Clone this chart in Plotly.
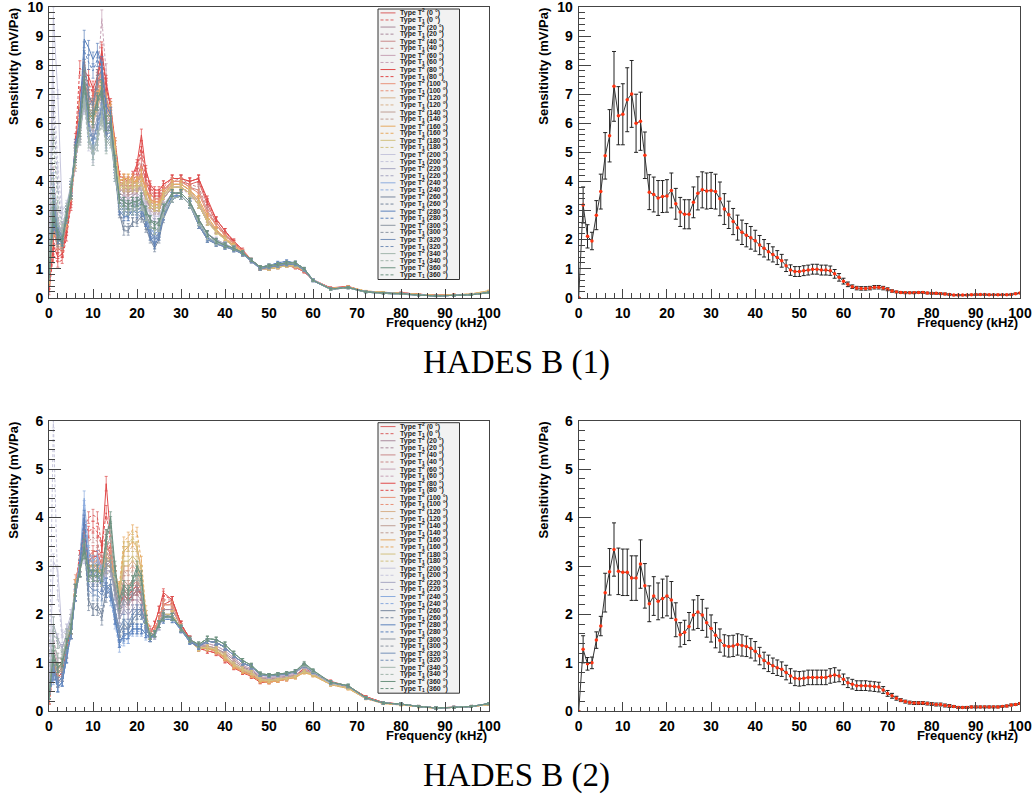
import plotly.graph_objects as go

# ---------------- data ----------------
FREQ_L = list(range(0, 27)) + list(range(28, 61, 2)) + list(range(64, 101, 4))   # kHz, left panels
FREQ_R = list(range(0, 101))                                                      # kHz, right panels
ANGLES = [0, 20, 40, 60, 80, 100, 120, 140, 160, 180, 200, 220, 240, 260, 280, 300, 320, 340, 360]
CAPTIONS = ["HADES B (1)", "HADES B (2)"]
Y_TITLE = "Sensitivity (mV/Pa)"
X_TITLE = "Frequency (kHz)"

# HADES B (1) individual responses (Type T2 solid, Type T1 dashed)
b1_t2_000 = [0.6,2.4,1.7,1.6,2.5,3.5,5.0,6.3,7.5,6.9,6.7,7.1,8.0,6.9,6.3,5.0,4.0,3.9,3.8,3.9,4.1,4.6,4.0,3.6,3.4,3.4,3.7,4.0,4.0,3.9,4.0,3.2,2.6,2.2,1.9,1.6,1.3,1.05,1.05,1.1,1.1,1.05,0.9,0.62,0.33,0.38,0.2,0.17,0.17,0.12,0.08,0.1,0.1,0.2]
b1_t1_000 = [0.4,2.0,1.5,1.5,2.3,3.3,4.7,6.0,7.2,6.6,6.9,7.5,8.4,7.2,6.5,5.2,4.1,4.0,3.9,4.0,4.3,5.0,4.1,3.7,3.5,3.5,3.8,4.1,4.1,4.0,4.1,3.3,2.7,2.3,1.95,1.6,1.3,1.05,1.05,1.1,1.1,1.05,0.9,0.6,0.32,0.37,0.21,0.18,0.16,0.11,0.08,0.1,0.11,0.21]
b1_t2_020 = [0.8,3.0,2.2,2.0,2.8,3.6,4.8,5.8,7.3,6.5,6.4,6.8,7.2,6.3,6.1,4.8,3.6,3.5,3.4,3.5,3.6,3.9,3.4,3.1,3.0,3.0,3.4,3.8,3.8,3.6,3.2,2.6,2.3,2.0,1.75,1.5,1.3,1.0,1.0,1.05,1.1,1.1,0.95,0.6,0.3,0.35,0.22,0.18,0.15,0.1,0.07,0.09,0.12,0.22]
b1_t1_020 = [0.7,2.7,2.0,1.9,2.7,3.5,4.6,5.6,7.0,6.3,6.2,6.6,7.4,6.5,6.2,4.9,3.7,3.6,3.6,3.7,3.7,4.0,3.5,3.2,3.1,3.1,3.5,3.9,3.9,3.7,3.3,2.7,2.3,2.0,1.75,1.5,1.3,1.0,1.0,1.05,1.1,1.1,0.95,0.6,0.31,0.36,0.22,0.18,0.15,0.1,0.07,0.09,0.12,0.22]
b1_t2_040 = [0.5,2.6,1.9,1.8,2.6,3.6,5.1,6.2,7.4,6.8,6.9,7.3,7.9,6.8,6.4,5.1,3.9,3.8,3.7,3.8,3.9,4.2,3.7,3.3,3.2,3.2,3.6,4.0,4.0,3.8,3.7,3.0,2.5,2.15,1.85,1.6,1.3,1.0,1.0,1.05,1.1,1.05,0.9,0.6,0.33,0.37,0.21,0.17,0.16,0.11,0.08,0.1,0.11,0.2]
b1_t1_040 = [0.4,2.3,1.7,1.7,2.5,3.4,4.9,6.0,7.1,6.6,6.6,7.0,7.7,6.7,6.3,5.0,3.9,3.8,3.7,3.9,4.0,4.4,3.8,3.4,3.3,3.3,3.7,4.0,4.1,3.9,3.8,3.1,2.5,2.2,1.9,1.6,1.3,1.0,1.0,1.05,1.1,1.05,0.9,0.6,0.32,0.37,0.21,0.17,0.16,0.11,0.08,0.1,0.11,0.2]
b1_t2_060 = [0.9,3.5,2.4,2.1,2.9,3.7,4.9,5.7,7.2,6.2,6.0,6.5,7.0,6.0,6.0,4.8,3.6,3.5,3.5,3.6,3.6,3.9,3.4,3.1,3.0,3.0,3.4,3.8,3.8,3.6,3.3,2.7,2.3,2.0,1.75,1.5,1.3,1.0,1.0,1.05,1.1,1.1,0.95,0.6,0.3,0.35,0.2,0.17,0.15,0.1,0.07,0.09,0.11,0.2]
b1_t1_060 = [1.0,4.2,2.8,2.3,3.0,3.8,5.0,5.8,7.0,6.0,5.8,7.5,9.6,7.8,5.9,4.7,3.6,3.5,3.4,3.5,3.6,3.8,3.3,3.0,2.9,3.0,3.4,3.8,3.8,3.5,3.2,2.6,2.3,2.0,1.75,1.5,1.3,1.0,1.0,1.05,1.1,1.1,0.95,0.6,0.3,0.35,0.21,0.17,0.15,0.1,0.07,0.09,0.11,0.21]
b1_t2_080 = [0.3,1.8,1.4,1.5,2.3,3.4,5.2,7.0,7.8,7.6,7.2,7.6,8.5,7.4,6.6,5.3,4.2,4.1,4.0,4.2,4.6,5.6,4.4,3.9,3.7,3.7,3.9,4.1,4.1,4.0,4.1,3.4,2.7,2.3,1.95,1.65,1.3,1.05,1.05,1.1,1.1,1.05,0.9,0.62,0.34,0.39,0.21,0.18,0.17,0.12,0.08,0.1,0.11,0.2]
b1_t1_080 = [0.2,1.5,1.2,1.3,2.1,3.2,5.4,7.9,7.7,7.4,7.0,7.4,8.3,7.3,6.5,5.2,4.1,4.0,4.0,4.1,4.5,5.2,4.3,3.8,3.6,3.6,3.9,4.1,4.1,4.0,4.1,3.3,2.7,2.3,1.9,1.6,1.3,1.05,1.05,1.1,1.1,1.05,0.9,0.6,0.33,0.38,0.21,0.18,0.17,0.12,0.08,0.1,0.1,0.19]
b1_t2_100 = [0.6,2.5,1.9,1.8,2.6,3.6,5.0,6.1,7.4,6.9,6.8,7.2,7.8,6.7,6.3,5.0,3.9,3.9,3.8,3.9,4.0,4.3,3.8,3.4,3.3,3.3,3.7,4.0,4.0,3.8,3.6,2.9,2.5,2.15,1.85,1.6,1.3,1.0,1.0,1.05,1.1,1.05,0.92,0.6,0.32,0.37,0.21,0.17,0.16,0.11,0.08,0.1,0.11,0.2]
b1_t1_100 = [0.5,2.3,1.8,1.7,2.5,3.5,4.8,5.9,7.1,6.6,6.6,7.0,7.6,6.6,6.2,4.9,3.9,3.9,3.8,3.9,4.0,4.3,3.8,3.4,3.3,3.3,3.7,4.0,4.0,3.8,3.6,2.9,2.5,2.1,1.85,1.6,1.3,1.0,1.0,1.05,1.1,1.05,0.92,0.6,0.32,0.37,0.21,0.17,0.16,0.11,0.08,0.1,0.11,0.2]
b1_t2_120 = [0.7,2.8,2.1,1.9,2.7,3.6,4.9,5.8,7.2,6.5,6.4,6.9,7.3,6.3,6.2,4.9,3.9,4.0,4.0,4.0,3.9,4.0,3.5,3.2,3.1,3.1,3.5,3.9,3.9,3.7,3.3,2.7,2.3,2.0,1.8,1.55,1.3,1.0,1.0,1.05,1.1,1.1,0.95,0.6,0.31,0.36,0.22,0.18,0.15,0.1,0.07,0.09,0.12,0.22]
b1_t1_120 = [0.6,2.6,2.0,1.9,2.7,3.6,4.8,5.7,7.0,6.4,6.3,6.8,7.4,6.4,6.2,4.9,3.9,4.0,3.9,3.9,3.9,4.0,3.5,3.2,3.1,3.1,3.5,3.9,3.9,3.7,3.3,2.7,2.3,2.0,1.8,1.55,1.3,1.0,1.0,1.05,1.1,1.1,0.95,0.6,0.31,0.36,0.22,0.18,0.15,0.1,0.07,0.09,0.12,0.22]
b1_t2_140 = [0.8,3.1,2.2,2.0,2.8,3.7,4.9,5.7,7.1,6.3,6.2,6.7,7.0,6.1,6.1,4.8,3.7,3.7,3.7,3.7,3.7,3.9,3.4,3.1,3.0,3.0,3.4,3.8,3.8,3.6,3.2,2.6,2.3,2.0,1.75,1.5,1.3,1.0,1.0,1.05,1.1,1.1,0.95,0.6,0.3,0.35,0.21,0.17,0.15,0.1,0.07,0.09,0.11,0.21]
b1_t1_140 = [0.9,3.4,2.4,2.1,2.9,3.7,4.8,5.6,6.9,6.1,6.0,6.5,7.2,6.2,6.1,4.8,3.7,3.7,3.6,3.7,3.7,3.9,3.4,3.1,3.0,3.0,3.4,3.8,3.8,3.6,3.2,2.6,2.3,2.0,1.75,1.5,1.3,1.0,1.0,1.05,1.1,1.1,0.95,0.6,0.3,0.35,0.21,0.17,0.15,0.1,0.07,0.09,0.11,0.21]
b1_t2_160 = [0.6,2.7,2.0,1.9,2.7,3.7,5.0,6.0,7.0,6.2,6.3,6.9,7.4,6.6,6.4,5.2,4.0,4.1,4.1,4.0,4.0,4.2,3.7,3.4,3.2,3.2,3.6,3.9,3.9,3.7,3.4,2.8,2.35,2.05,1.8,1.55,1.3,1.0,1.0,1.05,1.1,1.1,0.95,0.6,0.32,0.37,0.23,0.19,0.16,0.11,0.08,0.1,0.13,0.24]
b1_t1_160 = [0.5,2.4,1.9,1.8,2.6,3.6,4.9,6.5,6.8,6.0,6.1,6.7,7.6,6.8,6.5,5.3,4.0,4.1,4.1,4.1,4.0,4.2,3.7,3.4,3.2,3.2,3.6,3.9,3.9,3.7,3.4,2.8,2.35,2.05,1.8,1.55,1.3,1.0,1.0,1.05,1.1,1.1,0.95,0.6,0.32,0.37,0.23,0.19,0.16,0.11,0.08,0.1,0.13,0.24]
b1_t2_180 = [0.7,3.0,2.1,2.0,2.8,3.6,4.8,5.8,7.1,6.3,6.2,6.7,7.1,6.3,6.2,4.9,3.8,3.8,3.8,3.8,3.8,3.9,3.5,3.2,3.1,3.1,3.5,3.8,3.8,3.6,3.2,2.6,2.25,2.0,1.75,1.5,1.3,1.0,1.0,1.05,1.1,1.1,0.95,0.6,0.31,0.36,0.22,0.18,0.15,0.1,0.07,0.09,0.12,0.22]
b1_t1_180 = [0.6,2.8,2.0,1.9,2.7,3.6,4.7,5.7,6.9,6.1,6.0,6.5,7.2,6.4,6.3,5.0,3.9,3.9,3.9,3.9,3.8,3.9,3.5,3.2,3.1,3.1,3.5,3.8,3.8,3.6,3.2,2.6,2.25,2.0,1.75,1.5,1.3,1.0,1.0,1.05,1.1,1.1,0.95,0.6,0.31,0.36,0.22,0.18,0.15,0.1,0.07,0.09,0.12,0.22]
b1_t2_200 = [1.2,9.7,7.0,3.0,3.2,3.9,5.0,5.7,6.8,5.5,4.9,5.6,6.5,5.8,5.9,4.6,3.5,3.4,3.3,3.4,3.4,3.6,3.2,2.9,2.8,2.8,3.2,3.6,3.6,3.3,2.7,2.2,2.0,1.85,1.7,1.55,1.3,1.05,1.1,1.15,1.2,1.2,1.0,0.6,0.3,0.35,0.2,0.16,0.14,0.09,0.06,0.08,0.1,0.18]
b1_t1_200 = [1.0,7.5,4.5,2.8,3.1,3.8,4.9,5.6,6.6,5.3,4.8,5.3,6.2,5.6,5.7,4.5,3.4,3.3,3.3,3.3,3.3,3.5,3.1,2.8,2.7,2.7,3.1,3.5,3.5,3.2,2.6,2.15,1.95,1.8,1.68,1.52,1.28,1.02,1.08,1.12,1.18,1.18,0.98,0.58,0.29,0.34,0.19,0.15,0.13,0.09,0.06,0.08,0.1,0.17]
b1_t2_220 = [0.9,3.6,2.5,2.2,2.9,3.7,4.9,5.6,7.0,6.0,5.7,6.2,6.8,5.9,5.9,4.7,3.5,3.3,3.2,3.3,3.3,3.5,3.0,2.7,2.6,2.6,3.1,3.6,3.6,3.3,2.7,2.2,2.0,1.85,1.7,1.55,1.3,1.05,1.1,1.15,1.2,1.2,1.0,0.62,0.3,0.35,0.2,0.16,0.14,0.09,0.06,0.08,0.1,0.18]
b1_t1_220 = [1.1,6.5,3.8,2.5,3.0,3.8,4.8,5.5,6.7,5.8,5.5,6.0,6.6,5.8,5.8,4.6,3.5,3.3,3.2,3.2,3.3,3.4,3.0,2.7,2.6,2.6,3.0,3.5,3.6,3.3,2.7,2.2,1.95,1.82,1.68,1.52,1.28,1.02,1.08,1.12,1.18,1.18,0.98,0.6,0.29,0.34,0.19,0.15,0.13,0.09,0.06,0.08,0.1,0.17]
b1_t2_240 = [1.0,4.0,2.6,2.2,3.0,3.8,5.0,5.9,7.4,5.6,5.0,5.5,6.6,5.6,5.7,4.5,3.3,3.1,3.0,3.1,3.1,3.3,2.8,2.4,2.2,2.3,2.9,3.5,3.5,3.2,2.6,2.1,1.9,1.8,1.7,1.55,1.3,1.05,1.1,1.15,1.2,1.2,1.0,0.62,0.3,0.35,0.2,0.16,0.14,0.09,0.06,0.08,0.1,0.18]
b1_t1_240 = [0.9,3.2,2.3,2.0,2.9,3.7,4.9,6.0,7.6,5.8,5.2,5.7,6.8,5.8,5.8,4.6,3.4,3.2,3.0,3.1,3.2,3.3,2.8,2.4,2.2,2.3,2.9,3.5,3.5,3.2,2.6,2.1,1.9,1.8,1.7,1.55,1.3,1.05,1.1,1.15,1.2,1.2,1.0,0.62,0.3,0.35,0.2,0.16,0.14,0.09,0.06,0.08,0.1,0.18]
b1_t2_260 = [0.8,2.8,2.0,1.9,2.8,3.7,5.1,6.1,8.2,7.0,6.6,7.6,7.8,5.5,6.0,4.3,2.9,2.3,2.3,2.6,2.6,2.8,2.4,2.0,1.7,2.0,2.7,3.4,3.5,3.2,2.5,2.0,1.85,1.75,1.65,1.5,1.25,1.0,1.05,1.1,1.15,1.15,0.95,0.58,0.29,0.34,0.19,0.15,0.13,0.09,0.06,0.08,0.1,0.17]
b1_t1_260 = [0.7,2.5,1.9,1.8,2.7,3.6,5.0,6.0,7.9,6.8,6.5,7.4,7.6,5.7,6.1,4.4,3.0,2.5,2.4,2.6,2.7,2.9,2.5,2.1,1.8,2.1,2.8,3.4,3.5,3.2,2.5,2.0,1.85,1.75,1.65,1.5,1.25,1.0,1.05,1.1,1.15,1.15,0.95,0.58,0.29,0.34,0.19,0.15,0.13,0.09,0.06,0.08,0.1,0.17]
b1_t2_280 = [0.9,2.9,2.1,2.0,2.9,3.8,5.2,6.2,8.9,8.6,8.2,8.5,8.0,6.6,6.3,4.5,3.0,2.8,2.8,3.0,2.9,3.0,2.6,2.1,1.8,2.1,2.8,3.5,3.5,3.2,2.6,2.05,1.9,1.8,1.7,1.55,1.3,1.05,1.1,1.2,1.25,1.2,1.0,0.6,0.3,0.35,0.2,0.16,0.14,0.09,0.06,0.08,0.1,0.18]
b1_t1_280 = [0.8,2.6,2.0,1.9,2.8,3.7,5.1,6.1,8.5,8.1,7.8,8.2,7.8,6.4,6.2,4.5,3.1,2.9,2.8,3.0,3.0,3.1,2.6,2.2,1.9,2.2,2.8,3.5,3.5,3.2,2.6,2.05,1.9,1.8,1.7,1.55,1.3,1.05,1.1,1.2,1.25,1.2,1.0,0.6,0.3,0.35,0.2,0.16,0.14,0.09,0.06,0.08,0.1,0.18]
b1_t2_300 = [0.8,3.2,2.3,2.1,2.9,3.7,5.0,5.9,7.6,6.5,6.3,6.8,7.1,6.0,6.0,4.6,3.3,3.2,3.1,3.2,3.2,3.3,2.9,2.5,2.3,2.4,3.0,3.6,3.6,3.3,2.7,2.2,1.95,1.8,1.7,1.55,1.3,1.05,1.1,1.15,1.2,1.2,1.0,0.6,0.3,0.35,0.2,0.16,0.14,0.09,0.06,0.08,0.1,0.18]
b1_t1_300 = [0.7,3.0,2.2,2.0,2.8,3.6,4.9,5.8,7.4,6.4,6.2,6.7,7.0,6.0,6.0,4.6,3.3,3.2,3.1,3.2,3.2,3.3,2.9,2.5,2.3,2.4,3.0,3.6,3.6,3.3,2.7,2.2,1.95,1.8,1.7,1.55,1.3,1.05,1.1,1.15,1.2,1.2,1.0,0.6,0.3,0.35,0.2,0.16,0.14,0.09,0.06,0.08,0.1,0.18]
b1_t2_320 = [1.0,3.4,2.4,2.1,3.0,3.8,5.0,5.8,7.3,6.0,5.4,6.0,6.6,5.4,5.6,4.3,3.2,3.0,2.9,3.0,3.0,3.1,2.7,2.3,2.0,2.2,2.8,3.4,3.5,3.2,2.5,2.0,1.85,1.75,1.65,1.5,1.25,1.0,1.05,1.1,1.15,1.15,0.95,0.58,0.29,0.34,0.19,0.15,0.13,0.09,0.06,0.08,0.1,0.17]
b1_t1_320 = [0.9,3.1,2.3,2.0,2.9,3.7,4.9,5.7,7.1,5.8,5.3,5.9,6.5,5.3,5.5,4.2,3.1,2.9,2.9,3.0,3.0,3.1,2.7,2.3,2.1,2.2,2.8,3.4,3.5,3.2,2.5,2.0,1.85,1.75,1.65,1.5,1.25,1.0,1.05,1.1,1.15,1.15,0.95,0.58,0.29,0.34,0.19,0.15,0.13,0.09,0.06,0.08,0.1,0.17]
b1_t2_340 = [1.1,3.8,2.6,2.2,3.0,3.8,4.9,5.6,7.0,5.6,5.0,5.5,6.3,5.3,5.5,4.3,3.2,3.1,3.0,3.1,3.1,3.2,2.8,2.5,2.3,2.4,2.9,3.4,3.5,3.2,2.6,2.1,1.9,1.8,1.7,1.55,1.3,1.05,1.1,1.15,1.2,1.2,1.0,0.6,0.29,0.34,0.19,0.15,0.13,0.09,0.06,0.08,0.1,0.17]
b1_t1_340 = [1.3,5.5,3.2,2.4,3.1,3.9,4.9,5.5,6.8,5.4,4.8,5.3,6.1,5.2,5.4,4.2,3.2,3.0,3.0,3.0,3.0,3.2,2.8,2.5,2.3,2.4,2.9,3.4,3.5,3.2,2.6,2.1,1.9,1.8,1.7,1.55,1.3,1.05,1.1,1.15,1.2,1.2,1.0,0.6,0.29,0.34,0.19,0.15,0.13,0.09,0.06,0.08,0.1,0.17]
b1_t2_360 = [0.8,3.0,2.2,2.0,2.9,3.7,5.0,5.9,7.5,6.4,6.2,6.8,7.2,6.0,6.0,4.7,3.4,3.3,3.2,3.3,3.3,3.4,3.0,2.7,2.5,2.6,3.1,3.6,3.6,3.3,2.7,2.2,1.95,1.8,1.7,1.55,1.3,1.05,1.1,1.15,1.2,1.2,1.0,0.6,0.3,0.35,0.2,0.16,0.14,0.09,0.06,0.08,0.1,0.18]
b1_t1_360 = [0.7,2.8,2.1,1.9,2.8,3.6,4.9,5.8,7.3,6.3,6.1,6.7,7.1,6.0,6.0,4.7,3.4,3.3,3.2,3.3,3.3,3.4,3.0,2.7,2.5,2.6,3.1,3.6,3.6,3.3,2.7,2.2,1.95,1.8,1.7,1.55,1.3,1.05,1.1,1.15,1.2,1.2,1.0,0.6,0.3,0.35,0.2,0.16,0.14,0.09,0.06,0.08,0.1,0.18]
b1_spread = [0.1,0.3,0.15,0.12,0.15,0.2,0.25,0.25,0.3,0.25,0.25,0.25,0.3,0.25,0.25,0.2,0.15,0.15,0.15,0.15,0.15,0.2,0.15,0.12,0.12,0.12,0.12,0.12,0.12,0.12,0.12,0.1,0.08,0.08,0.07,0.06,0.05,0.05,0.05,0.05,0.05,0.05,0.04,0.03,0.03,0.03,0.02,0.02,0.02,0.02,0.02,0.02,0.02,0.02]

# HADES B (2) individual responses
b2_t2_000 = [0.3,1.0,0.8,0.9,1.4,1.8,2.5,3.0,3.6,3.2,3.3,3.3,3.0,3.5,3.2,2.8,2.3,2.5,2.4,2.5,2.6,2.4,1.9,1.6,1.7,1.9,2.2,2.3,1.8,1.5,1.3,1.3,1.25,1.1,0.95,0.85,0.75,0.65,0.62,0.65,0.68,0.72,0.85,0.8,0.6,0.52,0.3,0.18,0.15,0.1,0.07,0.08,0.1,0.15]
b2_t1_000 = [0.2,0.8,0.7,0.8,1.3,1.7,2.6,3.2,3.8,4.0,4.05,4.0,3.4,3.6,3.3,2.9,2.4,2.6,2.5,2.6,2.7,2.5,2.0,1.7,1.7,1.9,2.2,2.3,1.8,1.5,1.3,1.3,1.25,1.1,0.95,0.85,0.75,0.65,0.62,0.65,0.68,0.72,0.85,0.78,0.58,0.5,0.3,0.18,0.14,0.1,0.07,0.08,0.1,0.15]
b2_t2_020 = [0.3,1.2,0.9,1.0,1.5,1.8,2.5,2.9,3.4,3.0,3.0,2.9,2.8,3.0,3.1,2.6,2.2,2.4,2.3,2.4,2.4,2.3,1.9,1.6,1.6,1.8,2.1,2.1,1.75,1.5,1.35,1.35,1.3,1.2,1.05,0.92,0.85,0.7,0.66,0.7,0.72,0.75,0.85,0.78,0.58,0.5,0.28,0.17,0.15,0.1,0.07,0.08,0.1,0.15]
b2_t1_020 = [0.3,1.1,0.8,0.9,1.4,1.8,2.6,3.0,3.5,3.1,3.1,3.0,2.9,3.1,3.2,2.7,2.3,2.5,2.4,2.4,2.5,2.4,1.9,1.6,1.6,1.8,2.1,2.1,1.75,1.5,1.35,1.35,1.3,1.2,1.05,0.92,0.85,0.7,0.66,0.7,0.72,0.75,0.85,0.78,0.58,0.5,0.28,0.17,0.15,0.1,0.07,0.08,0.1,0.15]
b2_t2_040 = [0.2,1.0,0.8,0.9,1.4,1.7,2.4,2.9,3.5,3.1,3.2,3.2,2.9,3.3,3.1,2.7,2.2,2.4,2.3,2.4,2.5,2.4,1.9,1.6,1.6,1.9,2.2,2.2,1.75,1.45,1.3,1.3,1.25,1.1,0.95,0.85,0.78,0.65,0.63,0.66,0.68,0.72,0.82,0.76,0.58,0.5,0.29,0.17,0.14,0.1,0.07,0.08,0.1,0.14]
b2_t1_040 = [0.2,0.9,0.7,0.8,1.3,1.7,2.5,3.1,3.7,3.5,3.6,3.5,3.1,3.4,3.2,2.8,2.3,2.5,2.4,2.5,2.6,2.4,1.9,1.6,1.7,1.9,2.3,2.3,1.8,1.5,1.3,1.3,1.25,1.1,0.95,0.85,0.75,0.64,0.62,0.65,0.68,0.72,0.84,0.78,0.58,0.5,0.29,0.17,0.14,0.1,0.07,0.08,0.1,0.14]
b2_t2_060 = [0.3,1.3,1.0,1.0,1.5,1.8,2.5,2.9,3.3,2.9,2.9,2.9,2.8,3.0,3.0,2.6,2.1,2.3,2.2,2.3,2.3,2.2,1.8,1.55,1.6,1.8,2.0,2.0,1.7,1.45,1.35,1.4,1.35,1.25,1.1,0.95,0.88,0.72,0.68,0.72,0.74,0.76,0.86,0.78,0.56,0.5,0.27,0.17,0.15,0.1,0.07,0.08,0.1,0.15]
b2_t1_060 = [0.3,1.5,1.1,1.1,1.5,1.9,2.5,2.9,3.3,2.9,2.8,2.8,2.7,2.9,2.9,2.5,2.0,2.2,2.1,2.2,2.2,2.1,1.8,1.55,1.6,1.8,2.0,2.0,1.7,1.45,1.35,1.4,1.35,1.25,1.1,0.95,0.88,0.72,0.68,0.72,0.74,0.76,0.86,0.78,0.56,0.5,0.27,0.17,0.15,0.1,0.07,0.08,0.1,0.15]
b2_t2_080 = [0.2,0.9,0.7,0.8,1.3,1.7,2.6,3.1,3.7,3.1,3.2,3.2,3.3,4.7,3.6,2.8,2.2,2.4,2.3,2.4,2.5,2.4,1.9,1.6,1.8,2.1,2.45,2.3,1.8,1.5,1.3,1.25,1.2,1.05,0.9,0.8,0.72,0.6,0.6,0.63,0.66,0.72,0.9,0.8,0.62,0.52,0.3,0.18,0.15,0.1,0.07,0.08,0.1,0.15]
b2_t1_080 = [0.2,0.8,0.6,0.7,1.2,1.6,2.6,3.2,3.9,3.7,3.8,3.7,3.4,4.1,3.5,2.8,2.3,2.5,2.4,2.5,2.6,2.4,1.9,1.6,1.8,2.1,2.4,2.3,1.8,1.5,1.3,1.25,1.2,1.05,0.9,0.8,0.72,0.6,0.6,0.63,0.66,0.72,0.9,0.8,0.6,0.5,0.3,0.18,0.15,0.1,0.07,0.08,0.1,0.15]
b2_t2_100 = [0.2,1.0,0.8,0.9,1.4,1.8,2.6,3.0,3.5,3.1,3.1,3.1,2.9,3.3,3.2,2.8,2.4,2.7,2.6,2.7,2.7,2.5,1.9,1.6,1.7,1.9,2.2,2.2,1.75,1.45,1.3,1.3,1.22,1.08,0.92,0.82,0.74,0.62,0.6,0.63,0.66,0.7,0.82,0.76,0.58,0.5,0.29,0.17,0.14,0.1,0.07,0.08,0.1,0.14]
b2_t1_100 = [0.2,0.9,0.8,0.9,1.4,1.8,2.7,3.1,3.6,3.2,3.2,3.1,3.0,3.4,3.3,2.9,2.5,2.9,2.9,3.0,2.9,2.6,2.0,1.6,1.7,1.9,2.2,2.2,1.75,1.45,1.3,1.3,1.22,1.08,0.92,0.82,0.74,0.62,0.6,0.63,0.66,0.7,0.82,0.76,0.58,0.5,0.29,0.17,0.14,0.1,0.07,0.08,0.1,0.14]
b2_t2_120 = [0.3,1.1,0.9,0.9,1.5,1.8,2.5,2.9,3.3,3.0,3.0,3.0,2.8,3.1,3.1,2.7,2.4,3.0,3.0,3.1,3.0,2.6,1.9,1.55,1.6,1.8,2.0,2.0,1.7,1.45,1.3,1.3,1.25,1.12,0.95,0.85,0.78,0.65,0.63,0.66,0.68,0.72,0.82,0.76,0.56,0.48,0.27,0.17,0.14,0.1,0.07,0.08,0.1,0.14]
b2_t1_120 = [0.3,1.0,0.8,0.9,1.4,1.8,2.5,2.9,3.3,3.0,2.9,2.9,2.8,3.0,3.0,2.7,2.5,3.3,3.3,3.4,3.3,2.8,2.0,1.55,1.6,1.8,2.0,2.0,1.7,1.45,1.3,1.3,1.25,1.12,0.95,0.85,0.78,0.65,0.63,0.66,0.68,0.72,0.82,0.76,0.56,0.48,0.27,0.17,0.14,0.1,0.07,0.08,0.1,0.14]
b2_t2_140 = [0.3,1.2,0.9,1.0,1.5,1.8,2.5,2.9,3.3,2.9,2.9,2.9,2.8,3.0,3.0,2.6,2.3,2.7,2.6,2.7,2.7,2.5,1.9,1.6,1.6,1.8,2.0,2.0,1.7,1.45,1.32,1.35,1.3,1.18,1.0,0.9,0.82,0.68,0.65,0.68,0.7,0.74,0.84,0.77,0.56,0.48,0.27,0.17,0.14,0.1,0.07,0.08,0.1,0.14]
b2_t1_140 = [0.3,1.1,0.9,1.0,1.5,1.8,2.6,3.0,3.4,3.0,3.0,3.0,2.9,3.1,3.1,2.7,2.4,2.9,2.8,2.9,2.8,2.5,1.9,1.6,1.6,1.8,2.0,2.0,1.7,1.45,1.32,1.35,1.3,1.18,1.0,0.9,0.82,0.68,0.65,0.68,0.7,0.74,0.84,0.77,0.56,0.48,0.27,0.17,0.14,0.1,0.07,0.08,0.1,0.14]
b2_t2_160 = [0.3,1.0,0.8,0.9,1.4,1.8,2.6,3.0,3.4,3.0,3.0,3.0,2.8,3.2,3.1,2.8,2.5,3.3,3.4,3.5,3.4,2.9,2.0,1.55,1.6,1.8,2.0,2.0,1.7,1.45,1.3,1.3,1.25,1.1,0.92,0.82,0.74,0.62,0.6,0.63,0.66,0.7,0.8,0.74,0.55,0.47,0.26,0.16,0.13,0.09,0.06,0.08,0.1,0.14]
b2_t1_160 = [0.3,0.9,0.8,0.9,1.4,1.8,2.6,3.0,3.4,3.0,2.9,2.9,2.8,3.1,3.1,2.8,2.6,3.5,3.6,3.75,3.7,3.1,2.1,1.55,1.6,1.8,2.0,2.0,1.7,1.45,1.3,1.3,1.25,1.1,0.92,0.82,0.74,0.62,0.6,0.63,0.66,0.7,0.8,0.74,0.55,0.47,0.26,0.16,0.13,0.09,0.06,0.08,0.1,0.14]
b2_t2_180 = [0.3,1.1,0.9,1.0,1.5,1.8,2.5,2.9,3.3,2.9,2.9,2.9,2.8,3.0,3.0,2.7,2.4,3.1,3.1,3.2,3.1,2.7,2.0,1.55,1.6,1.8,2.0,2.0,1.7,1.45,1.3,1.32,1.28,1.15,0.97,0.87,0.8,0.66,0.63,0.66,0.68,0.72,0.82,0.76,0.56,0.48,0.27,0.17,0.14,0.1,0.07,0.08,0.1,0.14]
b2_t1_180 = [0.3,1.0,0.8,0.9,1.4,1.8,2.5,2.9,3.3,2.9,2.9,2.9,2.8,3.0,3.0,2.7,2.5,3.4,3.4,3.6,3.4,2.9,2.0,1.55,1.6,1.8,2.0,2.0,1.7,1.45,1.3,1.32,1.28,1.15,0.97,0.87,0.8,0.66,0.63,0.66,0.68,0.72,0.82,0.76,0.56,0.48,0.27,0.17,0.14,0.1,0.07,0.08,0.1,0.14]
b2_t2_200 = [0.4,3.1,2.9,1.6,1.7,2.0,2.5,2.9,3.2,2.7,2.6,2.7,2.6,2.8,2.9,2.4,1.9,2.1,2.0,2.1,2.1,2.1,1.8,1.5,1.55,1.75,1.95,1.95,1.7,1.45,1.35,1.45,1.42,1.32,1.15,1.0,0.92,0.75,0.72,0.74,0.76,0.8,0.92,0.8,0.58,0.52,0.27,0.17,0.15,0.1,0.07,0.08,0.1,0.16]
b2_t1_200 = [0.5,6.0,2.4,1.5,1.7,2.0,2.5,2.9,3.2,2.7,2.6,2.7,2.6,2.8,2.9,2.4,1.9,2.1,2.0,2.1,2.1,2.1,1.8,1.5,1.55,1.75,1.95,1.95,1.7,1.45,1.35,1.45,1.42,1.32,1.15,1.0,0.92,0.75,0.72,0.74,0.76,0.8,0.92,0.8,0.58,0.52,0.27,0.17,0.15,0.1,0.07,0.08,0.1,0.16]
b2_t2_220 = [0.4,1.8,1.5,1.3,1.6,1.9,2.5,2.9,3.3,2.8,2.7,2.7,2.6,2.9,2.9,2.4,1.9,2.1,2.0,2.1,2.1,2.1,1.8,1.5,1.55,1.75,1.95,1.95,1.7,1.45,1.35,1.45,1.42,1.32,1.15,1.0,0.92,0.75,0.72,0.74,0.76,0.8,0.92,0.8,0.58,0.52,0.27,0.17,0.15,0.1,0.07,0.08,0.1,0.16]
b2_t1_220 = [0.4,1.6,1.4,1.3,1.6,1.9,2.5,2.9,3.3,2.8,2.7,2.7,2.6,2.9,2.9,2.4,1.9,2.1,2.0,2.1,2.2,2.1,1.8,1.5,1.55,1.75,1.95,1.95,1.7,1.45,1.35,1.45,1.42,1.32,1.15,1.0,0.92,0.75,0.72,0.74,0.76,0.8,0.92,0.8,0.58,0.52,0.27,0.17,0.15,0.1,0.07,0.08,0.1,0.16]
b2_t2_240 = [0.3,0.8,0.5,0.6,1.1,1.6,2.5,3.1,4.4,3.3,3.1,3.2,2.9,2.6,2.4,1.9,1.4,1.5,1.5,1.7,1.7,1.7,1.6,1.5,1.6,1.8,1.95,1.95,1.7,1.45,1.35,1.45,1.42,1.32,1.15,1.0,0.92,0.76,0.74,0.76,0.78,0.82,0.95,0.82,0.6,0.52,0.28,0.17,0.15,0.1,0.07,0.08,0.1,0.16]
b2_t1_240 = [0.3,0.7,0.5,0.6,1.1,1.6,2.4,3.0,4.2,3.2,3.0,3.1,2.8,2.5,2.3,1.8,1.3,1.45,1.5,1.65,1.65,1.65,1.55,1.5,1.6,1.8,1.95,1.95,1.7,1.45,1.35,1.45,1.42,1.32,1.15,1.0,0.92,0.76,0.74,0.76,0.78,0.82,0.95,0.82,0.6,0.52,0.28,0.17,0.15,0.1,0.07,0.08,0.1,0.16]
b2_t2_260 = [0.3,1.0,0.6,0.7,1.2,1.6,2.4,2.9,3.6,2.3,2.1,2.2,2.0,2.5,2.6,2.1,1.6,1.8,1.7,1.9,2.0,2.1,1.8,1.5,1.6,1.8,1.95,1.95,1.7,1.45,1.35,1.45,1.42,1.32,1.15,1.0,0.92,0.76,0.74,0.76,0.78,0.82,0.95,0.82,0.6,0.52,0.28,0.17,0.15,0.1,0.07,0.08,0.1,0.16]
b2_t1_260 = [0.3,0.9,0.6,0.7,1.2,1.6,2.4,2.9,3.5,2.2,2.1,2.1,1.9,2.4,2.5,2.0,1.5,1.7,1.7,1.8,1.9,2.0,1.7,1.5,1.6,1.8,1.95,1.95,1.7,1.45,1.35,1.45,1.42,1.32,1.15,1.0,0.92,0.76,0.74,0.76,0.78,0.82,0.95,0.82,0.6,0.52,0.28,0.17,0.15,0.1,0.07,0.08,0.1,0.16]
b2_t2_280 = [0.3,0.9,0.5,0.6,1.1,1.6,2.5,3.0,4.0,3.0,2.8,2.9,2.6,2.6,2.5,1.9,1.4,1.6,1.6,1.7,1.7,1.7,1.6,1.5,1.6,1.8,1.9,1.9,1.68,1.43,1.33,1.45,1.42,1.32,1.15,1.0,0.92,0.76,0.74,0.76,0.78,0.82,0.95,0.82,0.6,0.52,0.28,0.17,0.15,0.1,0.07,0.08,0.1,0.16]
b2_t1_280 = [0.3,0.8,0.5,0.6,1.1,1.6,2.4,3.0,3.9,2.9,2.7,2.8,2.6,2.5,2.4,1.9,1.4,1.55,1.6,1.7,1.7,1.7,1.6,1.5,1.6,1.8,1.9,1.9,1.68,1.43,1.33,1.45,1.42,1.32,1.15,1.0,0.92,0.76,0.74,0.76,0.78,0.82,0.95,0.82,0.6,0.52,0.28,0.17,0.15,0.1,0.07,0.08,0.1,0.16]
b2_t2_300 = [0.3,1.1,0.8,0.9,1.4,1.7,2.5,2.9,3.5,2.9,2.8,2.8,2.7,3.0,3.0,2.5,2.0,2.3,2.2,2.4,2.5,2.4,1.9,1.55,1.6,1.8,2.0,1.95,1.7,1.45,1.35,1.45,1.42,1.32,1.15,1.0,0.92,0.76,0.74,0.76,0.78,0.82,0.95,0.82,0.6,0.52,0.28,0.17,0.15,0.1,0.07,0.08,0.1,0.16]
b2_t1_300 = [0.3,1.0,0.8,0.9,1.4,1.7,2.5,2.9,3.4,2.8,2.7,2.7,2.7,3.1,3.1,2.6,2.1,2.4,2.3,2.5,2.6,2.4,1.9,1.55,1.6,1.8,2.0,1.95,1.7,1.45,1.35,1.45,1.42,1.32,1.15,1.0,0.92,0.76,0.74,0.76,0.78,0.82,0.95,0.82,0.6,0.52,0.28,0.17,0.15,0.1,0.07,0.08,0.1,0.16]
b2_t2_320 = [0.3,0.9,0.6,0.7,1.2,1.6,2.4,2.9,3.5,2.6,2.5,2.5,2.4,2.6,2.6,2.1,1.7,1.9,1.8,2.0,2.1,2.1,1.8,1.5,1.6,1.8,1.95,1.95,1.7,1.45,1.35,1.45,1.42,1.32,1.15,1.0,0.92,0.76,0.74,0.76,0.78,0.82,0.95,0.82,0.6,0.52,0.28,0.17,0.15,0.1,0.07,0.08,0.1,0.16]
b2_t1_320 = [0.3,0.8,0.6,0.7,1.2,1.6,2.4,2.9,3.4,2.5,2.4,2.4,2.3,2.5,2.5,2.0,1.6,1.8,1.7,1.9,2.0,2.0,1.7,1.5,1.6,1.8,1.95,1.95,1.7,1.45,1.35,1.45,1.42,1.32,1.15,1.0,0.92,0.76,0.74,0.76,0.78,0.82,0.95,0.82,0.6,0.52,0.28,0.17,0.15,0.1,0.07,0.08,0.1,0.16]
b2_t2_340 = [0.3,1.4,1.1,1.1,1.5,1.8,2.5,2.9,3.3,2.8,2.8,2.8,2.7,3.4,3.6,2.8,2.2,2.5,2.4,2.6,2.8,2.6,1.9,1.55,1.6,1.8,1.95,1.95,1.72,1.48,1.38,1.5,1.48,1.38,1.2,1.05,0.95,0.78,0.75,0.77,0.79,0.83,0.96,0.83,0.6,0.53,0.28,0.17,0.15,0.1,0.07,0.08,0.1,0.16]
b2_t1_340 = [0.3,1.8,1.4,1.2,1.6,1.9,2.5,2.9,3.3,2.8,2.8,2.8,2.8,3.6,3.8,2.9,2.3,2.6,2.5,2.7,2.9,2.7,1.9,1.55,1.6,1.8,1.95,1.95,1.72,1.48,1.38,1.5,1.48,1.38,1.2,1.05,0.95,0.78,0.75,0.77,0.79,0.83,0.96,0.83,0.6,0.53,0.28,0.17,0.15,0.1,0.07,0.08,0.1,0.16]
b2_t2_360 = [0.3,1.2,0.9,1.0,1.4,1.7,2.5,2.9,3.4,2.9,2.9,2.9,2.8,3.6,4.0,3.0,2.3,2.6,2.5,2.7,3.0,2.8,1.9,1.55,1.6,1.8,1.95,1.95,1.72,1.48,1.38,1.5,1.48,1.38,1.2,1.05,0.95,0.78,0.75,0.77,0.79,0.83,1.0,0.85,0.6,0.53,0.28,0.17,0.15,0.1,0.07,0.08,0.1,0.16]
b2_t1_360 = [0.3,1.1,0.9,1.0,1.4,1.7,2.5,2.9,3.3,2.8,2.8,2.8,2.8,3.5,3.9,2.9,2.2,2.5,2.4,2.6,2.9,2.7,1.9,1.55,1.6,1.8,1.95,1.95,1.72,1.48,1.38,1.5,1.48,1.38,1.2,1.05,0.95,0.78,0.75,0.77,0.79,0.83,0.98,0.84,0.6,0.53,0.28,0.17,0.15,0.1,0.07,0.08,0.1,0.16]
b2_spread = [0.05,0.15,0.1,0.08,0.1,0.1,0.12,0.12,0.15,0.12,0.12,0.12,0.12,0.15,0.12,0.1,0.08,0.1,0.1,0.1,0.1,0.1,0.08,0.06,0.06,0.07,0.08,0.07,0.06,0.05,0.05,0.05,0.05,0.05,0.04,0.04,0.04,0.03,0.03,0.03,0.03,0.03,0.03,0.03,0.03,0.03,0.02,0.02,0.02,0.02,0.02,0.02,0.02,0.02]

# averaged responses (right panels)
b1_mean = [0, 3.19, 2.11, 1.95, 2.84, 3.65, 4.88, 5.57, 7.27, 6.26,
           6.31, 6.81, 7.01, 6.0, 6.07, 4.9, 3.63, 3.55, 3.43, 3.48,
           3.5, 3.69, 3.23, 2.95, 2.87, 2.87, 3.28, 3.59, 3.71, 3.67,
           3.69, 3.65, 3.4, 3.05, 2.85, 2.62, 2.41, 2.25, 2.15, 2.06,
           1.96, 1.81, 1.7, 1.58, 1.49, 1.38, 1.27, 1.1, 0.95, 0.9,
           0.9, 0.93, 0.95, 0.98, 0.98, 0.95, 0.95, 0.93, 0.82, 0.7,
           0.57, 0.46, 0.38, 0.33, 0.32, 0.32, 0.33, 0.36, 0.36, 0.33,
           0.29, 0.23, 0.2, 0.18, 0.17, 0.17, 0.17, 0.18, 0.18, 0.16,
           0.15, 0.15, 0.14, 0.13, 0.11, 0.09, 0.09, 0.09, 0.09, 0.1,
           0.11, 0.11, 0.11, 0.1, 0.1, 0.1, 0.1, 0.1, 0.11, 0.14,
           0.16]
b1_err = [0, 0.62, 0.4, 0.3, 0.5, 0.6, 0.8, 0.9, 1.2, 1.0,
          1.05, 1.1, 1.15, 1.0, 1.0, 0.8, 0.6, 0.6, 0.6, 0.55,
          0.56, 0.6, 0.53, 0.5, 0.5, 0.5, 0.53, 0.57, 0.62, 0.62,
          0.62, 0.6, 0.58, 0.53, 0.47, 0.45, 0.43, 0.42, 0.4, 0.39,
          0.36, 0.33, 0.3, 0.28, 0.26, 0.24, 0.22, 0.2, 0.18, 0.17,
          0.17, 0.17, 0.17, 0.17, 0.17, 0.17, 0.17, 0.16, 0.15, 0.13,
          0.1, 0.08, 0.06, 0.06, 0.06, 0.06, 0.06, 0.06, 0.06, 0.06,
          0.05, 0.04, 0.03, 0.03, 0.03, 0.03, 0.03, 0.03, 0.03, 0.03,
          0.03, 0.03, 0.03, 0.03, 0.03, 0.02, 0.02, 0.02, 0.02, 0.02,
          0.02, 0.02, 0.02, 0.02, 0.02, 0.02, 0.02, 0.02, 0.02, 0.02,
          0.02]
b2_mean = [0, 1.28, 0.98, 1.0, 1.47, 1.76, 2.45, 2.88, 3.34, 2.89,
           2.87, 2.87, 2.75, 2.75, 3.04, 2.59, 2.22, 2.38, 2.27, 2.33,
           2.38, 2.3, 1.89, 1.58, 1.63, 1.75, 1.99, 2.05, 1.99, 1.83,
           1.71, 1.57, 1.46, 1.36, 1.34, 1.35, 1.38, 1.36, 1.34, 1.3,
           1.24, 1.14, 1.05, 0.99, 0.94, 0.9, 0.87, 0.8, 0.73, 0.68,
           0.67, 0.68, 0.7, 0.7, 0.7, 0.7, 0.7, 0.73, 0.75, 0.73,
           0.66, 0.59, 0.56, 0.53, 0.53, 0.53, 0.52, 0.51, 0.5, 0.44,
           0.37, 0.32, 0.27, 0.23, 0.2, 0.18, 0.17, 0.17, 0.17, 0.16,
           0.15, 0.14, 0.14, 0.12, 0.11, 0.1, 0.08, 0.08, 0.08, 0.09,
           0.09, 0.09, 0.09, 0.09, 0.09, 0.09, 0.1, 0.11, 0.13, 0.14,
           0.16]
b2_err = [0, 0.28, 0.13, 0.12, 0.17, 0.2, 0.4, 0.48, 0.55, 0.48,
          0.48, 0.48, 0.46, 0.46, 0.5, 0.46, 0.37, 0.4, 0.38, 0.4,
          0.41, 0.38, 0.35, 0.25, 0.25, 0.29, 0.31, 0.34, 0.32, 0.3,
          0.28, 0.26, 0.24, 0.22, 0.22, 0.22, 0.22, 0.22, 0.21, 0.2,
          0.2, 0.18, 0.17, 0.17, 0.16, 0.16, 0.15, 0.15, 0.15, 0.15,
          0.15, 0.15, 0.15, 0.15, 0.15, 0.15, 0.15, 0.15, 0.15, 0.12,
          0.11, 0.1, 0.1, 0.1, 0.1, 0.1, 0.1, 0.1, 0.1, 0.07,
          0.06, 0.05, 0.04, 0.03, 0.03, 0.03, 0.03, 0.03, 0.03, 0.03,
          0.03, 0.03, 0.03, 0.03, 0.03, 0.02, 0.02, 0.02, 0.02, 0.02,
          0.02, 0.02, 0.02, 0.02, 0.02, 0.02, 0.02, 0.02, 0.02, 0.02,
          0.02]

# ---------------- style ----------------
ANGLE_COLORS = ["#d96060", "#a98a9c", "#c98a8a", "#c6a2b6", "#e04a4a", "#e8937a", "#d8b28c",
                "#bf9f95", "#e6a960", "#d2c180", "#c6c6dc", "#a7a7c2", "#8cacde", "#77879e",
                "#5b82bc", "#8d96a2", "#7490b8", "#a2b6ac", "#6c9280"]
W, H = 1032, 796
FONT = "Liberation Sans, Arial, Helvetica, sans-serif"


def px(x):
    return x / W


def py(y):
    return 1 - y / H


PANELS = [
    dict(key="b1", ymax=10, top=7.0, bottom=297.7, caption_y=362),
    dict(key="b2", ymax=6, top=420.7, bottom=711.3, caption_y=775),
]
X_LEFT = (49.0, 489.0)
X_RIGHT = (578.7, 1020.0)

fig = go.Figure()
layout = dict(width=W, height=H, autosize=False, margin=dict(l=0, r=0, t=0, b=0, pad=0, autoexpand=False),
              paper_bgcolor="white", plot_bgcolor="white", showlegend=False)
shapes, annotations = [], []
tickfont = dict(family=FONT, size=14, color="black", weight="bold")

for pi, p in enumerate(PANELS):
    ydom = [py(p["bottom"]), py(p["top"])]
    for side, xr in enumerate([X_LEFT, X_RIGHT]):
        n = pi * 2 + side + 1
        sfx = "" if n == 1 else str(n)
        layout["xaxis" + sfx] = dict(
            domain=[px(xr[0]), px(xr[1])], anchor="y" + sfx, range=[0, 100], autorange=False,
            automargin=False, ticklabeloverflow="allow",
            showline=True, linecolor="#444", linewidth=1, mirror=True, ticks="inside",
            ticklen=9, tickwidth=1, tickcolor="#444", tickmode="linear", tick0=0, dtick=10,
            showgrid=False, zeroline=False, tickfont=tickfont, ticklabelstandoff=2,
            minor=dict(ticks="inside", ticklen=4.5, tickwidth=1, tickcolor="#444",
                       tickmode="linear", tick0=0, dtick=2, showgrid=False))
        layout["yaxis" + sfx] = dict(
            domain=ydom, anchor="x" + sfx, range=[0, p["ymax"]], autorange=False,
            automargin=False, ticklabeloverflow="allow",
            showline=True, linecolor="#444", linewidth=1, mirror=True, ticks="inside",
            ticklen=12, tickwidth=1, tickcolor="#444", tickmode="linear", tick0=0, dtick=1,
            showgrid=False, zeroline=False, tickfont=tickfont, ticklabelstandoff=2,
            minor=dict(ticks="inside", ticklen=6, tickwidth=1, tickcolor="#444",
                       tickmode="linear", tick0=0, dtick=0.2, showgrid=False))
        # axis titles (ROOT style: at the axis ends)
        annotations.append(dict(x=px(13.5 + (xr[0] - 49.0)), y=py(p["top"] - 1), xref="paper", yref="paper",
                                text=Y_TITLE, textangle=-90, showarrow=False, xanchor="center",
                                yanchor="top", font=dict(family=FONT, size=13, color="black", weight="bold")))
        annotations.append(dict(x=px(xr[1]), y=py(p["bottom"] + 24.5), xref="paper", yref="paper",
                                text=X_TITLE, showarrow=False, xanchor="right", yanchor="middle",
                                font=dict(family=FONT, size=13, color="black", weight="bold")))

    xa = "x" if pi == 0 else "x3"
    ya = "y" if pi == 0 else "y3"
    spread = globals()[p["key"] + "_spread"]
    for ai, ang in enumerate(ANGLES):
        for variant, dash in (("t2", "solid"), ("t1", "3px,2px")):
            yv = globals()["%s_%s_%03d" % (p["key"], variant, ang)]
            assert len(yv) == len(FREQ_L), (p["key"], variant, ang, len(yv))
            fig.add_trace(go.Scatter(
                x=FREQ_L, y=yv, xaxis=xa, yaxis=ya, mode="lines",
                line=dict(color=ANGLE_COLORS[ai], width=1, dash=dash),
                error_y=dict(type="data", array=spread, visible=True, color=ANGLE_COLORS[ai],
                             thickness=0.7, width=1.5),
                name="Type %s (%d °)" % (variant, ang), hoverinfo="skip"))

    xa2 = "x2" if pi == 0 else "x4"
    ya2 = "y2" if pi == 0 else "y4"
    mean = globals()[p["key"] + "_mean"]
    err = globals()[p["key"] + "_err"]
    assert len(mean) == len(FREQ_R) and len(err) == len(FREQ_R)
    fig.add_trace(go.Scatter(
        x=FREQ_R, y=mean, xaxis=xa2, yaxis=ya2, mode="lines+markers",
        line=dict(color="#333333", width=1),
        marker=dict(color="#ff3311", size=3.5, line=dict(width=0)),
        error_y=dict(type="data", array=err, visible=True, color="#222222", thickness=1, width=2),
        hoverinfo="skip"))

    # legend box (drawn manually, ROOT TLegend look)
    off = p["top"] - 7.0
    shapes.append(dict(type="rect", xref="paper", yref="paper", x0=px(378), x1=px(459.5),
                       y0=py(279.5 + off), y1=py(9 + off), fillcolor="#f2f2f2",
                       line=dict(color="#333333", width=1), layer="above"))
    for i in range(len(ANGLES) * 2):
        ai, variant = i // 2, i % 2
        yc = 12.9 + 7.08 * i + off
        shapes.append(dict(type="line", xref="paper", yref="paper", x0=px(380.5), x1=px(395.5),
                           y0=py(yc), y1=py(yc), layer="above",
                           line=dict(color=ANGLE_COLORS[ai], width=1,
                                     dash="solid" if variant == 0 else "3px,2px")))
        label = ("Type T<sup>2</sup> (%d °)" if variant == 0 else "Type T<sub>1</sub> (%d °)") % ANGLES[ai]
        annotations.append(dict(x=px(398), y=py(yc), xref="paper", yref="paper", text=label,
                                showarrow=False, xanchor="left", yanchor="middle",
                                font=dict(family=FONT, size=7, color="#222222", weight="bold")))

    annotations.append(dict(x=px(516), y=py(p["caption_y"]), xref="paper", yref="paper",
                            text=CAPTIONS[pi], showarrow=False, xanchor="center", yanchor="middle",
                            font=dict(family="Liberation Serif, Times New Roman, serif", size=33,
                                      color="black")))

layout["shapes"] = shapes
layout["annotations"] = annotations
fig.update_layout(**layout)
fig.write_html("out.html", config={"displayModeBar": False},
               post_script="document.body.style.margin='0px';document.body.style.overflow='hidden';")
